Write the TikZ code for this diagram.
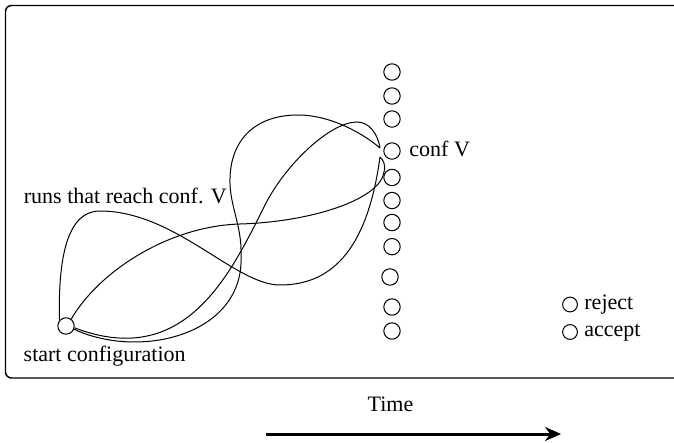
\documentclass[tikz,border=0pt]{standalone}
\usepackage{fontspec}
\setmainfont{Liberation Serif}
\usetikzlibrary{arrows.meta}
\begin{document}
\begin{tikzpicture}[x=0.5pt,y=-0.5pt,
  conf/.style={circle,draw,line width=0.5pt,minimum size=8.2pt,inner sep=0pt},
  small/.style={conf,minimum size=7.4pt},
  run/.style={line width=0.5pt},
  lbl/.style={font=\fontsize{11}{13}\selectfont,inner sep=0pt,anchor=base west}]
\useasboundingbox (0,0) rectangle (674,443);
\begin{scope}
  \clip (0,0) rectangle (674,443);
  \draw[line width=0.7pt,rounded corners=3pt] (5.5,5.5) rectangle (690,378);
\end{scope}
% start configuration
\node[conf] (S) at (66,326) {};
% column of configurations
\node[conf] (c1) at (392,72) {};
\node[conf] (c2) at (392,96) {};
\node[conf] (c3) at (392,119) {};
\node[conf] (c4) at (392,151) {};
\node[conf] (c5) at (392,177.5) {};
\node[conf] (c6) at (392,200.5) {};
\node[conf] (c7) at (392,222.5) {};
\node[conf] (c8) at (392,246.7) {};
\node[conf] (c9) at (390,277) {};
\node[conf] (c10) at (392,307) {};
\node[conf] (c11) at (392,331) {};
% reject / accept
\node[small] (rej) at (570,304.5) {};
\node[small] (acc) at (570,332) {};
\node[lbl] (rejlbl) at (584,309.3) {reject};
\node[lbl] (acclbl) at (584,336.7) {accept};
% labels
\node[lbl] (startlbl) at (23.3,361.7) {start configuration};
\node[lbl] (runslbl) at (23.5,203.5) {runs that reach conf. V};
\node[lbl] (confV) at (409,156.5) {conf V};
% end points near conf V
\coordinate (e1) at (380,148);
\coordinate (e2) at (380,157);
% runs
\draw[run] (S.139) .. controls (58,255) and (68,211) .. (100,211)
  .. controls (175,211) and (235,285) .. (280,285)
  .. controls (335,285) and (368,245) .. (e2);
\draw[run] (S.-22) .. controls (140,360) and (245,335) .. (241,255)
  .. controls (242,225) and (229,205) .. (230,178)
  .. controls (231,140) and (255,115) .. (298,115)
  .. controls (332,115) and (365,135) .. (e1);
\draw[run] (S.53) .. controls (100,270) and (170,226) .. (240,224)
  .. controls (310,222) and (380,200) .. (384,172)
  .. controls (386,164) and (383,160) .. (e2);
\draw[run] (S.-12) .. controls (185,370) and (230,275) .. (265,205)
  .. controls (285,165) and (330,122) .. (357,122)
  .. controls (370,122) and (378,135) .. (e1);
% time axis
\node[font=\fontsize{11}{13}\selectfont,inner sep=0pt,anchor=base] (time) at (390.5,411.7) {Time};
\coordinate (t0) at (266,434);
\coordinate (t1) at (561,434);
\draw[line width=1.5pt,-{Stealth[length=8pt,width=7pt]}] (t0) -- (t1);
\end{tikzpicture}
\end{document}
